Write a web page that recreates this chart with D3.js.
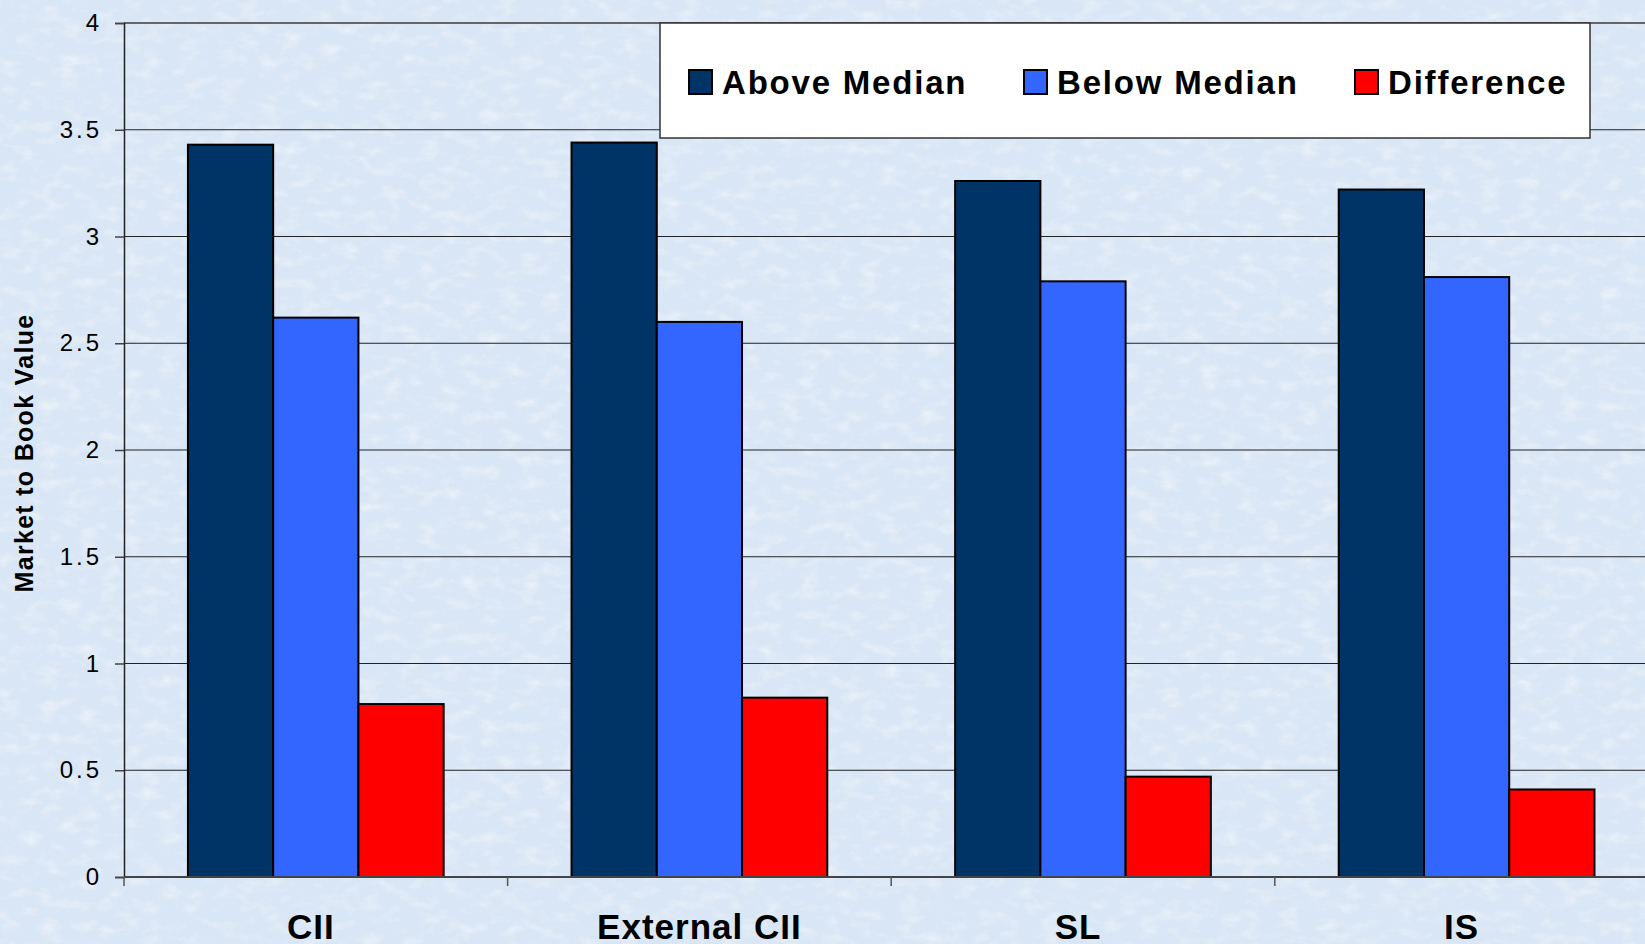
<!DOCTYPE html>
<html>
<head>
<meta charset="utf-8">
<script src="https://cdn.jsdelivr.net/npm/d3@7"></script>
<style>
  html, body { margin: 0; padding: 0; background: #dfeaf7; }
  svg { display: block; }
</style>
</head>
<body>
<div id="chart"></div>
<script>
const categories = ['CII', 'External CII', 'SL', 'IS'];
const seriesNames = ['Above Median', 'Below Median', 'Difference'];
const aboveMedian = [3.43, 3.44, 3.26, 3.22];
const belowMedian = [2.62, 2.60, 2.79, 2.81];
const difference = [0.81, 0.84, 0.47, 0.41];
const yTicks = [0, 0.5, 1, 1.5, 2, 2.5, 3, 3.5, 4];
const colors = ['#003366', '#3366ff', '#ff0000'];

const W = 1645, H = 944;
const margin = { top: 23, left: 124, bottom: 67 };
const bandW = 383.6;
const plotH = H - margin.top - margin.bottom;
const font = 'Liberation Sans, Arial, sans-serif';

const svg = d3.select('#chart').append('svg')
  .attr('width', W)
  .attr('height', H);

// textured light-blue background
const defs = svg.append('defs');
const filt = defs.append('filter').attr('id', 'tex')
  .attr('x', 0).attr('y', 0).attr('width', '100%').attr('height', '100%');
filt.append('feTurbulence')
  .attr('type', 'fractalNoise')
  .attr('baseFrequency', '0.05 0.09')
  .attr('numOctaves', 4)
  .attr('seed', 3)
  .attr('result', 'noise');
filt.append('feColorMatrix')
  .attr('in', 'noise')
  .attr('type', 'matrix')
  .attr('values', '0 0 0 0 1  0 0 0 0 1  0 0 0 0 1  0 0 0 -1.6 0.85');

svg.append('rect').attr('width', W).attr('height', H).attr('fill', '#d9e6f5');
svg.append('rect').attr('width', W).attr('height', H).attr('filter', 'url(#tex)').attr('opacity', 0.6);

const g = svg.append('g').attr('transform', `translate(${margin.left},${margin.top})`);

const y = d3.scaleLinear().domain([0, 4]).range([plotH, 0]);
const x0 = d3.scaleBand().domain(categories).range([0, bandW * categories.length]);
const edge = x0.bandwidth() * 0.75 / 4.5;
const x1 = d3.scaleBand().domain(seriesNames).range([edge, x0.bandwidth() - edge]);

// gridlines
g.selectAll('.grid')
  .data(yTicks.filter(d => d > 0))
  .enter().append('line')
  .attr('x1', 0).attr('x2', W)
  .attr('y1', d => y(d)).attr('y2', d => y(d))
  .attr('stroke', d => d === 4 ? '#666' : '#222')
  .attr('stroke-width', d => d === 4 ? 2 : 1.2);

// bars
const rows = categories.map((c, i) => ({ cat: c, vals: [aboveMedian[i], belowMedian[i], difference[i]] }));
const grp = g.selectAll('.grp')
  .data(rows)
  .enter().append('g')
  .attr('transform', d => `translate(${x0(d.cat)},0)`);

grp.selectAll('rect')
  .data(d => d.vals.map((v, k) => ({ key: seriesNames[k], v, k })))
  .enter().append('rect')
  .attr('x', d => x1(d.key))
  .attr('y', d => y(d.v))
  .attr('width', x1.bandwidth())
  .attr('height', d => y(0) - y(d.v))
  .attr('fill', d => colors[d.k])
  .attr('stroke', '#000')
  .attr('stroke-width', 2);

// y axis
const yAxis = g.append('g')
  .call(d3.axisLeft(y).tickValues(yTicks).tickSize(9).tickPadding(13).tickFormat(d3.format('')));
yAxis.select('.domain').attr('stroke', '#222').attr('stroke-width', 1.5);
yAxis.selectAll('.tick line').attr('stroke', '#444').attr('stroke-width', 1.5);
yAxis.selectAll('text')
  .attr('font-family', font)
  .attr('font-size', 24)
  .attr('letter-spacing', 3)
  .attr('fill', '#000');

// x axis
const xAxis = g.append('g')
  .attr('transform', `translate(0,${plotH})`)
  .call(d3.axisBottom(x0).tickSize(0).tickPadding(37));
xAxis.select('.domain').remove();
g.append('line')
  .attr('x1', 0).attr('x2', W)
  .attr('y1', plotH).attr('y2', plotH)
  .attr('stroke', '#444').attr('stroke-width', 2);
g.selectAll('.xtick')
  .data(categories)
  .enter().append('line')
  .attr('x1', d => x0(d)).attr('x2', d => x0(d))
  .attr('y1', plotH).attr('y2', plotH + 9)
  .attr('stroke', '#555').attr('stroke-width', 1.5);
xAxis.selectAll('text')
  .attr('font-family', font)
  .attr('font-size', 35)
  .attr('font-weight', 'bold')
  .attr('letter-spacing', 1)
  .attr('fill', '#000')
  .attr('dx', d => d === 'External CII' ? 0 : -5);

// y axis title
svg.append('text')
  .attr('transform', `translate(33,453) rotate(-90)`)
  .attr('text-anchor', 'middle')
  .attr('font-family', font)
  .attr('font-size', 25)
  .attr('font-weight', 'bold')
  .attr('letter-spacing', 1.3)
  .text('Market to Book Value');

// legend
const legend = svg.append('g').attr('transform', 'translate(660,23)');
legend.append('rect')
  .attr('width', 930).attr('height', 115)
  .attr('fill', '#fff')
  .attr('stroke', '#333').attr('stroke-width', 1.5);
const legendX = [29, 364, 695];
const item = legend.selectAll('.item')
  .data(seriesNames)
  .enter().append('g')
  .attr('transform', (d, i) => `translate(${legendX[i]},47)`);
item.append('rect')
  .attr('width', 23).attr('height', 24)
  .attr('fill', (d, i) => colors[i])
  .attr('stroke', '#000').attr('stroke-width', 2);
item.append('text')
  .attr('x', 33).attr('y', 24)
  .attr('font-family', font)
  .attr('font-size', 33)
  .attr('font-weight', 'bold')
  .attr('letter-spacing', 1.8)
  .text(d => d);
</script>
</body>
</html>
